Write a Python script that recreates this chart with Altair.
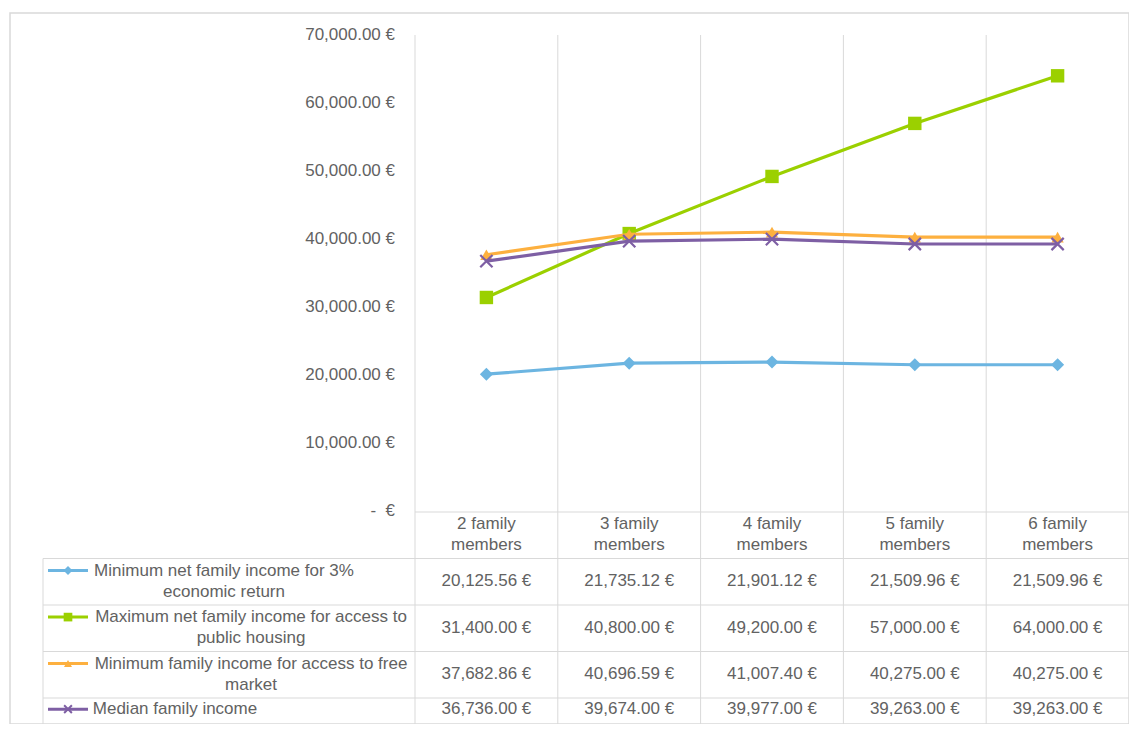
import altair as alt
import pandas as pd

# ---------------- data ----------------
CATEGORIES = ["2 family members", "3 family members", "4 family members",
              "5 family members", "6 family members"]
HEADER_LINES = [["2 family", "members"], ["3 family", "members"], ["4 family", "members"],
                ["5 family", "members"], ["6 family", "members"]]
SERIES = ["Minimum net family income for 3% economic return",
          "Maximum net family income for access to public housing",
          "Minimum family income for access to free market",
          "Median family income"]
SERIES_LINES = [["Minimum net family income for 3%", "economic return"],
                ["Maximum net family income for access to", "public housing"],
                ["Minimum family income for access to free", "market"],
                ["Median family income"]]
MIN_3PCT = [20125.56, 21735.12, 21901.12, 21509.96, 21509.96]
MAX_PUBLIC = [31400.00, 40800.00, 49200.00, 57000.00, 64000.00]
MIN_FREE = [37682.86, 40696.59, 41007.40, 40275.00, 40275.00]
MEDIAN = [36736.00, 39674.00, 39977.00, 39263.00, 39263.00]
VALUES = [MIN_3PCT, MAX_PUBLIC, MIN_FREE, MEDIAN]
Y_TICKS = [0, 10000, 20000, 30000, 40000, 50000, 60000, 70000]

# ---------------- style / layout ----------------
COLORS = ["#6CB5E1", "#9BD000", "#FDB03F", "#7E5FA4"]
SHAPES = ["diamond", "square", "triangle-up", "M-1,-1L1,1M1,-1L-1,1"]
FILLED = [True, True, True, False]
SIZES = [170, 180, 150, 150]
LEG_SIZES = [80, 75, 65, 60]
GRID = "#D9D9D9"
TEXT = "#626262"
FONT = "Liberation Sans"
FS = 17

# pixel geometry (page coordinates)
ORIGIN_X, ORIGIN_Y = 10, 13          # top-left of framed area
W, H = 1119, 711
PLOT_LEFT_PX, COL_PX = 415, 142.8    # first category column and its width
ZERO_PX, PX_PER_EURO = 511, 476 / 70000
TABLE_TOP_PX, ROW_PX = 512, 46.5

def px_to_u(px):
    return (px - PLOT_LEFT_PX) / COL_PX

U_DOMAIN = [px_to_u(ORIGIN_X), px_to_u(ORIGIN_X + W)]
EURO_DOMAIN = [(ZERO_PX - (ORIGIN_Y + H)) / PX_PER_EURO, (ZERO_PX - ORIGIN_Y) / PX_PER_EURO]
ROW_DOMAIN = [(ORIGIN_Y - TABLE_TOP_PX) / ROW_PX, (ORIGIN_Y + H - TABLE_TOP_PX) / ROW_PX]

XS = alt.Scale(domain=U_DOMAIN, nice=False, zero=False)
YE = alt.Scale(domain=EURO_DOMAIN, nice=False, zero=False)
YR = alt.Scale(domain=ROW_DOMAIN, nice=False, zero=False, reverse=True)

LEG_LEFT_U = px_to_u(43)
LEG_SEG = (px_to_u(48), px_to_u(88))
LEG_MARK_U = px_to_u(68)
LABEL_CENTER_U = [px_to_u(224), px_to_u(251), px_to_u(251), px_to_u(175)]
YLABEL_U = px_to_u(395)
LINE_OFF = [0.26, 0.71]
LAST_ROW_OFF = 0.24

def X(field="u"):
    return alt.X(f"{field}:Q", scale=XS, axis=None)

def fmt(v):
    return f"{v:,.2f} €"

# ---------------- euro layer ----------------
n_cols = len(CATEGORIES)
grid_df = pd.DataFrame({"u": list(range(n_cols)),
                        "y": [Y_TICKS[-1]] * n_cols,
                        "y2": [EURO_DOMAIN[0]] * n_cols})
grid = alt.Chart(grid_df).mark_rule(color=GRID, strokeWidth=1).encode(
    x=X(), y=alt.Y("y:Q", scale=YE, axis=None), y2="y2:Q")

ylab_df = pd.DataFrame({"v": Y_TICKS,
                        "label": ["-\u00a0\u00a0€" if t == 0 else fmt(t) for t in Y_TICKS],
                        "u": [YLABEL_U] * len(Y_TICKS)})
ylabels = alt.Chart(ylab_df).mark_text(font=FONT, fontSize=FS, color=TEXT, align="right",
                                       baseline="middle").encode(
    x=X(), y=alt.Y("v:Q", scale=YE, axis=None), text="label:N")

euro_layers = [grid, ylabels]
for i, s in enumerate(SERIES):
    df = pd.DataFrame({"u": [k + 0.5 for k in range(n_cols)],
                       "v": VALUES[i], "cat": CATEGORIES})
    base = alt.Chart(df).encode(x=X(), y=alt.Y("v:Q", scale=YE, axis=None))
    euro_layers.append(base.mark_line(color=COLORS[i], strokeWidth=3.2))
    euro_layers.append(base.mark_point(shape=SHAPES[i], filled=FILLED[i], size=SIZES[i],
                                       color=COLORS[i], opacity=1,
                                       strokeWidth=2.2 if not FILLED[i] else 0))
euro = alt.layer(*euro_layers)

# ---------------- table layer ----------------
n_rows = len(SERIES)
hl_df = pd.DataFrame({"r": [0] + [k + 1 for k in range(n_rows)],
                      "u": [0] + [LEG_LEFT_U] * n_rows,
                      "u2": [n_cols] * (n_rows + 1)})
hlines = alt.Chart(hl_df).mark_rule(color=GRID, strokeWidth=1).encode(
    x=X(), x2="u2:Q", y=alt.Y("r:Q", scale=YR, axis=None))
vl_df = pd.DataFrame({"u": [LEG_LEFT_U], "r": [1], "r2": [ROW_DOMAIN[1]]})
vline = alt.Chart(vl_df).mark_rule(color=GRID, strokeWidth=1).encode(
    x=X(), y=alt.Y("r:Q", scale=YR, axis=None), y2="r2:Q")

head_rows = []
for k, lines in enumerate(HEADER_LINES):
    for j, t in enumerate(lines):
        head_rows.append({"u": k + 0.5, "r": LINE_OFF[j], "t": t})
val_rows, lab_rows = [], []
for i, lines in enumerate(SERIES_LINES):
    r = i + 1
    first = LAST_ROW_OFF if len(lines) == 1 else LINE_OFF[0]
    vy = r + first + (len(lines) - 1) * (LINE_OFF[1] - LINE_OFF[0]) / 2
    for k, v in enumerate(VALUES[i]):
        val_rows.append({"u": k + 0.5, "r": vy, "t": fmt(v)})
    for j, t in enumerate(lines):
        off = first if j == 0 else LINE_OFF[j]
        lab_rows.append({"u": LABEL_CENTER_U[i], "r": r + off, "t": t})

txt = dict(font=FONT, fontSize=FS, color=TEXT, baseline="middle", align="center")
table_text = alt.Chart(pd.DataFrame(head_rows + val_rows + lab_rows)).mark_text(**txt).encode(
    x=X(), y=alt.Y("r:Q", scale=YR, axis=None), text="t:N")

table_layers = [hlines, vline, table_text]
for i in range(n_rows):
    first = LAST_ROW_OFF if len(SERIES_LINES[i]) == 1 else LINE_OFF[0]
    ldf = pd.DataFrame({"u": [LEG_SEG[0]], "u2": [LEG_SEG[1]], "um": [LEG_MARK_U],
                        "r": [i + 1 + first]})
    b = alt.Chart(ldf).encode(y=alt.Y("r:Q", scale=YR, axis=None))
    table_layers.append(b.mark_rule(color=COLORS[i], strokeWidth=3).encode(x=X(), x2="u2:Q"))
    table_layers.append(b.mark_point(shape=SHAPES[i], filled=FILLED[i], size=LEG_SIZES[i],
                                     color=COLORS[i], opacity=1,
                                     strokeWidth=2 if not FILLED[i] else 0).encode(x=X("um")))
table = alt.layer(*table_layers)

chart = alt.layer(euro, table).resolve_scale(y="independent").properties(
    width=W, height=H,
    autosize=alt.AutoSizeParams(type="none"),
    padding={"left": ORIGIN_X - 8, "top": ORIGIN_Y - 8, "right": 0, "bottom": 0},
).configure_view(stroke=GRID, strokeWidth=1.5)

chart.save("out.html", embed_options={"renderer": "svg", "actions": False})
